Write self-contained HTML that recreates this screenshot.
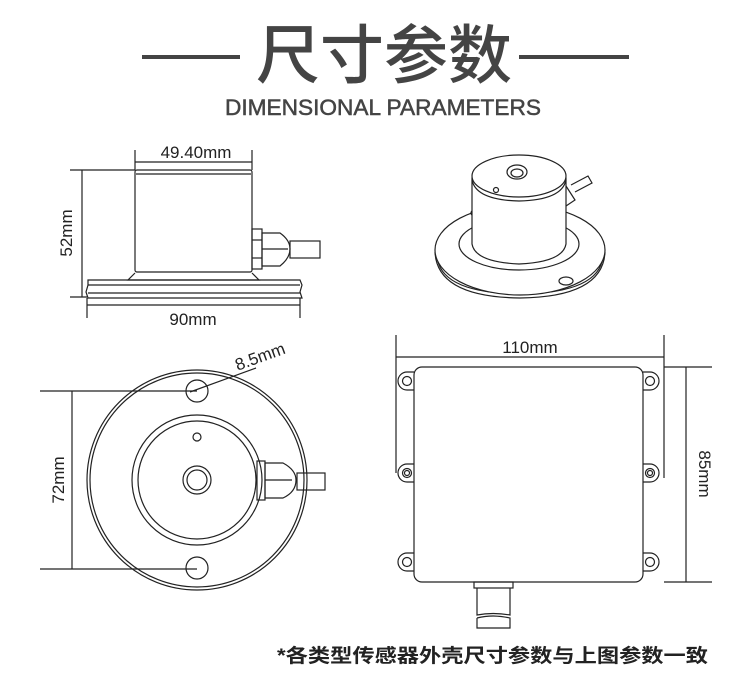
<!DOCTYPE html>
<html><head><meta charset="utf-8"><style>
html,body{margin:0;padding:0;background:#fff;}
svg{display:block;}
</style></head><body>
<svg width="750" height="679" viewBox="0 0 750 679" xmlns="http://www.w3.org/2000/svg" font-family="Liberation Sans, DejaVu Sans, sans-serif">
<!-- Title -->
<rect x="142" y="55" width="98" height="4" fill="#444"/>
<rect x="519" y="55" width="110" height="4" fill="#444"/>
<text x="384" y="78" font-size="64" text-anchor="middle" fill="#444" font-family="Noto Sans CJK SC, sans-serif" font-weight="500">尺寸参数</text>
<text x="383" y="115" font-size="22" text-anchor="middle" fill="#444" stroke="#444" stroke-width="0.5" textLength="316" lengthAdjust="spacingAndGlyphs">DIMENSIONAL PARAMETERS</text>

<g fill="none" stroke="#222" stroke-width="1.2">
<!-- side view -->
<rect x="135" y="170" width="117" height="102" rx="2"/>
<line x1="136" y1="174" x2="251" y2="174"/>
<path d="M135 273 L128 280 L259 280 L252 273"/>
<path d="M88 280 L300 280 L302 285 L300 292 L302 298 L88 298 L86 292 L88 285 Z"/>
<line x1="88" y1="293" x2="300" y2="293"/>
<line x1="88" y1="285" x2="300" y2="285"/>
<rect x="252" y="229" width="10" height="40"/>
<line x1="252" y1="240" x2="262" y2="240"/><line x1="252" y1="258" x2="262" y2="258"/>
<path d="M262 233 L280 233 Q290 240 290 249 Q290 258 280 266 L262 266 Z"/>
<line x1="262" y1="249" x2="288" y2="249"/>
<rect x="290" y="241" width="30" height="17"/>
<line x1="135" y1="150" x2="135" y2="170"/><line x1="252" y1="150" x2="252" y2="170"/>
<line x1="135" y1="162" x2="252" y2="162"/>
<line x1="70" y1="170" x2="135" y2="170"/><line x1="70" y1="297" x2="87" y2="297"/>
<line x1="82" y1="170" x2="82" y2="297"/>
<line x1="87" y1="298" x2="87" y2="318"/><line x1="300" y1="298" x2="300" y2="318"/>
<line x1="87" y1="305" x2="300" y2="305"/>

<!-- iso view -->
<path d="M435 252 Q437 297 520 298 Q603 297 605 252"/>
<path d="M437 256 Q440 293 520 294 Q600 293 603 256"/>
<ellipse cx="520" cy="250" rx="85" ry="45" fill="#fff"/>
<ellipse cx="478" cy="213" rx="7" ry="4"/>
<ellipse cx="566" cy="281" rx="7" ry="4"/>
<ellipse cx="519" cy="244" rx="60" ry="26"/>
<path d="M472 178 L472 244 Q475 262 519 264 Q563 262 566 244 L566 178 Z" fill="#fff"/>
<path d="M566 186 L575 200 L566 206"/>
<path d="M571 185 L588 176 L592 183 L575 192" fill="#fff"/>
<ellipse cx="519" cy="176" rx="47" ry="21" fill="#fff"/>
<path d="M472 180 Q476 200 519 201 Q562 200 566 180"/>
<ellipse cx="517" cy="172" rx="10" ry="7"/>
<ellipse cx="517" cy="173" rx="6" ry="4"/>
<circle cx="496" cy="190" r="2.5"/>

<!-- top view -->
<circle cx="197" cy="480" r="110"/>
<circle cx="197" cy="480" r="107"/>
<circle cx="197" cy="480" r="65"/>
<circle cx="197" cy="480" r="59"/>
<circle cx="197" cy="480" r="14"/>
<circle cx="197" cy="480" r="10"/>
<circle cx="197" cy="437" r="4"/>
<circle cx="197" cy="391" r="11"/>
<circle cx="197" cy="568" r="11"/>
<rect x="257" y="461" width="8" height="39"/>
<path d="M265 463 L283 463 Q296 470 296 480 Q296 492 283 498 L265 498 Z"/>
<line x1="265" y1="480" x2="292" y2="480"/>
<rect x="297" y="473" width="28" height="17"/>
<line x1="40" y1="391" x2="197" y2="391"/><line x1="40" y1="569" x2="197" y2="569"/>
<line x1="72" y1="391" x2="72" y2="569"/>
<line x1="190" y1="392" x2="256" y2="368"/>

<!-- box -->
<path d="M414 372 L407 372 A9 9 0 0 0 407 390 L414 390"/><circle cx="407" cy="381" r="4.5"/>
<path d="M414 464 L407 464 A9 9 0 0 0 407 482 L414 482"/><circle cx="407" cy="473" r="4.5"/><circle cx="407" cy="473" r="2.5"/>
<path d="M414 553 L407 553 A9 9 0 0 0 407 571 L414 571"/><circle cx="407" cy="562" r="4.5"/>
<path d="M643 372 L650 372 A9 9 0 0 1 650 390 L643 390"/><circle cx="650" cy="381" r="4.5"/>
<path d="M643 464 L650 464 A9 9 0 0 1 650 482 L643 482"/><circle cx="650" cy="473" r="4.5"/><circle cx="650" cy="473" r="2.5"/>
<path d="M643 553 L650 553 A9 9 0 0 1 650 571 L643 571"/><circle cx="650" cy="562" r="4.5"/>
<rect x="414" y="367" width="229" height="215" rx="8" fill="#fff"/>
<rect x="474" y="582" width="39" height="6"/>
<path d="M477 588 L477 615 Q493 612 510 615 L510 588"/>
<path d="M477 618 L477 628 L510 628 L510 618 Q493 614 477 618"/>
<line x1="396" y1="335" x2="396" y2="473"/><line x1="664" y1="335" x2="664" y2="478"/>
<line x1="396" y1="357" x2="664" y2="357"/>
<line x1="664" y1="367" x2="712" y2="367"/><line x1="664" y1="582" x2="712" y2="582"/>
<line x1="686" y1="367" x2="686" y2="582"/>
</g>

<g fill="#222" font-size="17">
<text x="196" y="158" text-anchor="middle">49.40mm</text>
<text x="193" y="325" text-anchor="middle">90mm</text>
<text transform="translate(72,233) rotate(-90)" text-anchor="middle">52mm</text>
<text transform="translate(64,480) rotate(-90)" text-anchor="middle">72mm</text>
<text transform="translate(262,362) rotate(-20)" text-anchor="middle">8.5mm</text>
<text x="530" y="353" text-anchor="middle">110mm</text>
<text transform="translate(699,474) rotate(90)" text-anchor="middle">85mm</text>
</g>
<text x="277" y="662" font-size="19" fill="#222" font-weight="bold" textLength="431" lengthAdjust="spacingAndGlyphs" font-family="Liberation Sans, Noto Sans CJK SC, sans-serif">*各类型传感器外壳尺寸参数与上图参数一致</text>
</svg>
</body></html>
